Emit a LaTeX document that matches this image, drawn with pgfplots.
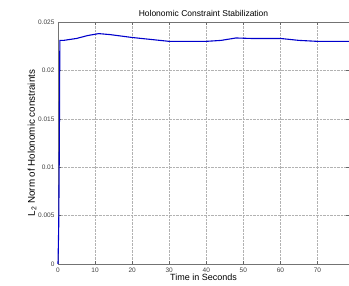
\documentclass[border=0pt]{standalone}
\usepackage{fontspec}
\setmainfont{Liberation Sans}
\usepackage{pgfplots}
\pgfplotsset{compat=1.18}
\begin{document}
\begin{tikzpicture}
\begin{axis}[
  at={(0,0)}, anchor=south west,
  scale only axis, width=291pt, height=242pt,
  xmin=0, xmax=78.5, ymin=0, ymax=0.025,
  xtick={0,10,20,30,40,50,60,70},
  ytick={0,0.005,0.01,0.015,0.02,0.025},
  yticklabels={0,0.005,0.01,0.015,0.02,0.025},
  scaled y ticks=false,
  /pgf/number format/assume math mode=true,
  tick label style={font=\fontsize{6.5}{7}\selectfont, text=black!75},
  tick align=inside, tick style={black!60, line width=0.4pt}, major tick length=3pt,
  axis line style={black!55, line width=0.6pt},
  grid=major, grid style={black!30, densely dotted, line width=0.4pt},
  title={Holonomic Constraint Stabilization},
  title style={font=\fontsize{8.5}{10}\selectfont, yshift=-4pt},
  xlabel={Time in Seconds},
  xlabel style={font=\fontsize{9}{10}\selectfont, yshift=5pt},
  ylabel={L\textsubscript{2} Norm of Holonomic constraints},
  ylabel style={font=\fontsize{9.8}{11}\selectfont, yshift=-5pt},
  clip=false,
]
\addplot[blue!80!black, line width=1.1pt] coordinates {
(0,0) (0.2,0.004) (0.35,0.0115) (0.5,0.0231) (1.5,0.0231) (5,0.0233) (8,0.0236) (11,0.0238) (14,0.0237) (20,0.0234) (25,0.0232) (30,0.0230) (40,0.0230) (44,0.0231) (48,0.02335) (52,0.0233) (60,0.0233) (65,0.0231) (70,0.0230) (78.5,0.0230)
};
\end{axis}
\pgfresetboundingbox
\useasboundingbox (-58pt,-22pt) rectangle (291pt,264pt);
\end{tikzpicture}
\end{document}
